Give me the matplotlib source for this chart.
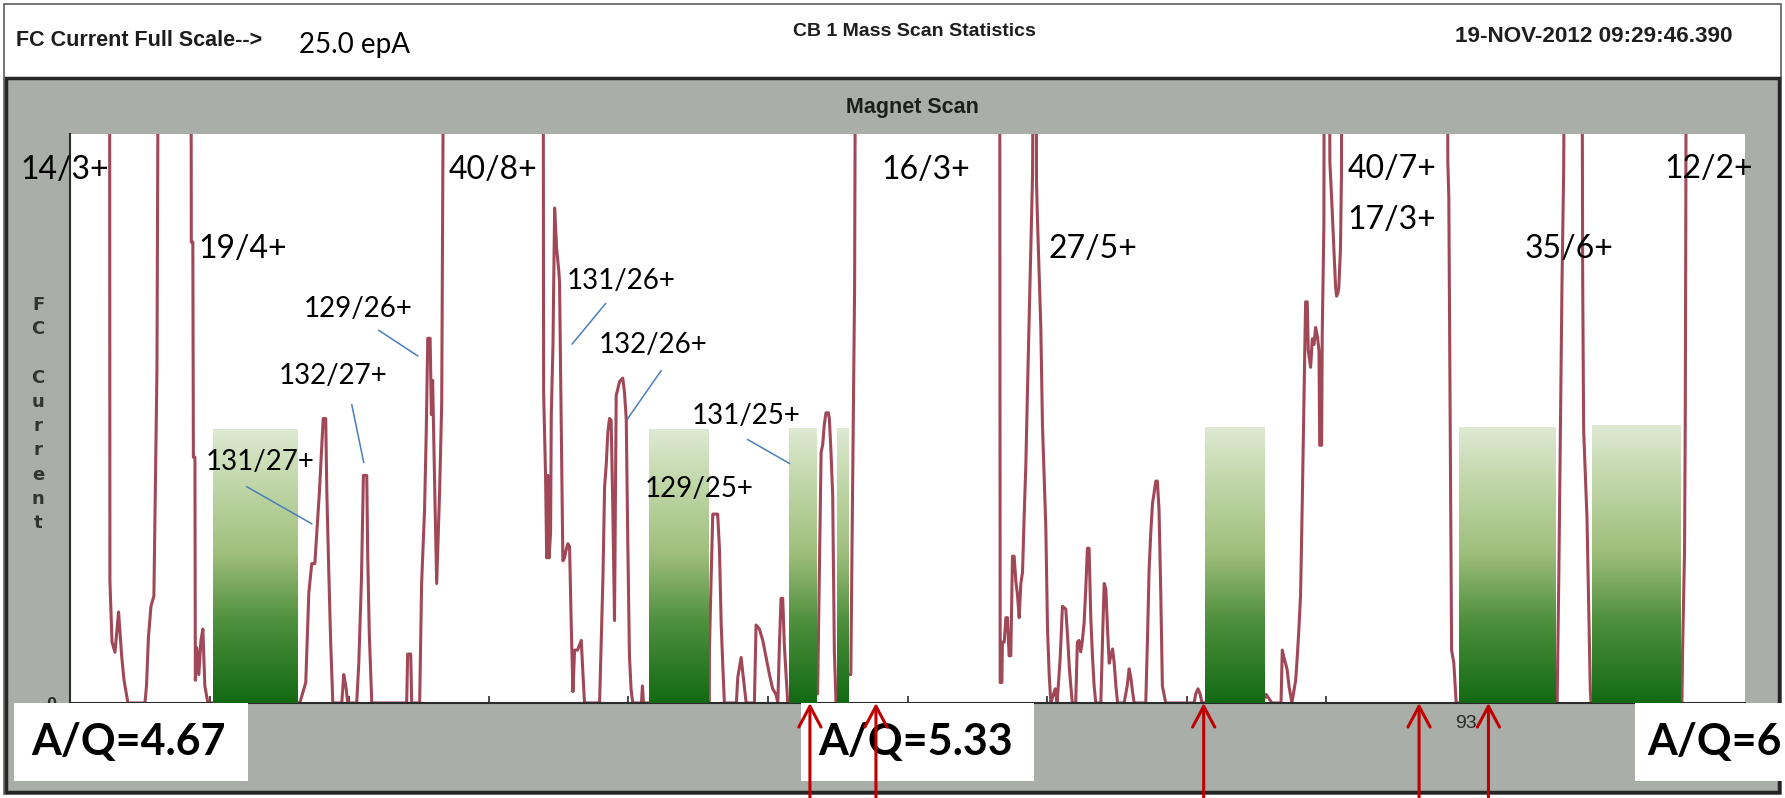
import matplotlib
matplotlib.use("Agg")
import matplotlib.pyplot as plt
import numpy as np
from matplotlib.patches import Rectangle
from matplotlib.colors import LinearSegmentedColormap

W, H = 1785, 798

# magnet scan trace: scan channel vs. FC current as a fraction of full scale
# (values above 1 are off scale and get clipped at the top of the plot)
scan_channel = [
    0, 28.3, 28.6, 30.1, 32.2, 34.8, 37.0, 38.7, 41.5, 53.7, 54.8, 56.2, 58.0, 60.1, 62.3, 63.7,
    86.6, 86.9, 88.0, 88.4, 89.5, 89.8, 90.9, 92.3, 93.8, 95.2, 96.6, 98.8, 164.6,
    168.9, 171.1, 173.2, 175.4, 176.8, 178.7, 180.0, 181.4, 183.2, 184.0, 185.4, 186.8, 188.3,
    194.7, 196.1, 197.6, 199.0, 205.4, 206.9, 208.8, 210.2, 212.6, 213.3, 214.4, 216.2,
    241.2, 241.9, 244.1, 244.8, 250.5, 251.9, 254.0, 255.2, 256.3, 258.0, 258.9, 259.8, 260.8,
    261.6, 262.7, 264.8, 266.3, 267.0, 268.2,
    338.9, 339.3, 340.7, 341.5, 342.3, 343.2, 344.3, 344.8, 346.0, 347.2, 348.6, 350.3, 350.7,
    351.9, 353.1, 354.3, 355.5, 356.7, 357.9, 359.1, 360.3, 361.5, 363.6, 366.3, 367.4, 368.6,
    379.4, 380.6, 381.8, 383.0, 384.2, 385.3, 386.5, 387.7, 388.9, 390.1, 391.3, 393.7, 396.0,
    397.2, 398.5, 399.6, 400.8, 402.0, 403.2, 409.4, 410.1, 410.8, 458.0,
    458.1, 459.3, 460.5, 464.0, 465.3, 466.5, 467.6, 468.8, 477.4, 478.4, 480.8, 482.4, 484.4,
    490.3, 491.5, 493.9, 496.3, 498.7, 501.1, 503.4, 505.8, 507.1, 508.2, 509.4, 510.6, 511.8,
    513.0, 514.2, 535.6,
    536.9, 538.1, 539.3, 540.4, 541.6, 543.3, 544.0, 545.2, 546.4, 547.6, 548.8, 557.8, 559.4,
    560.2, 561.2, 562.1, 563.1, 666.0,
    666.4, 667.6, 668.0, 669.3, 670.5, 671.6, 672.8, 674.0, 675.2, 676.4, 677.6, 678.8, 680.0,
    681.2, 682.4, 683.6, 684.8, 686.0, 687.2, 688.4, 689.6, 690.8, 692.2, 692.4, 693.1, 694.3,
    695.5, 696.7, 699.1, 700.3, 701.5, 702.7, 703.9, 705.8, 707.2, 709.4, 711.0, 713.4, 714.6,
    716.0, 717.0, 718.1, 720.5, 721.7, 722.9, 724.1, 725.3, 726.5, 727.7, 728.9, 730.1, 731.3,
    732.5, 733.7, 734.9, 738.5, 739.7, 740.9, 742.1, 743.3, 744.5, 745.7, 746.9, 748.1, 749.3,
    750.5, 755.2, 757.4, 758.8, 760.0, 761.2, 762.4, 770.7, 771.9, 773.1, 774.3, 775.5, 776.7,
    777.9, 779.0, 780.2, 781.4, 782.6, 783.8, 785.0, 805.3, 806.5, 808.1, 809.6, 811.0, 856.6,
    857.0, 861.1, 867.6, 868.5, 869.7, 871.9, 873.3, 875.4, 878.1, 879.2, 880.4, 881.6, 882.8,
    884.0, 885.2, 886.4, 887.1, 888.8, 890.0, 891.2, 892.4, 893.6, 894.8, 895.3, 896.7, 897.1,
    898.3, 898.8, 901.9, 902.6, 903.8, 905.4, 906.7, 907.4, 908.3, 909.0, 910.2, 910.9, 911.4,
    986.6, 987.1, 987.8, 988.8, 989.8, 991.4, 993.1, 1065.4, 1066.6, 1067.8, 1068.9, 1070.1,
    1071.4, 1083.0, 1083.7, 1084.4, 1086.8, 1088.0, 1089.2, 1089.8, 1154.8, 1155.3, 1156.0,
    1156.7, 1157.2, 1157.6, 1158.1, 1200,
]
scan_current = [
    1.5, 1.5, 0.214, 0.107, 0.089, 0.16, 0.083, 0.04, 0.0, 0.0, 0.03, 0.116, 0.17, 0.188, 0.587, 1.5,
    1.5, 0.81, 0.81, 0.432, 0.432, 0.04, 0.097, 0.05, 0.11, 0.13, 0.03, 0.0, 0.0,
    0.036, 0.194, 0.245, 0.245, 0.30, 0.372, 0.433, 0.50, 0.50, 0.37, 0.23, 0.103, 0.0,
    0.0, 0.05, 0.03, 0.0, 0.0, 0.07, 0.218, 0.40, 0.40, 0.258, 0.123, 0.0,
    0.0, 0.086, 0.086, 0.0, 0.0, 0.21, 0.339, 0.473, 0.641, 0.641, 0.507, 0.567, 0.44,
    0.339, 0.21, 0.372, 0.527, 0.866, 1.5,
    1.5, 0.547, 0.40, 0.255, 0.40, 0.255, 0.30, 0.507, 0.628, 0.87, 0.80, 0.756, 0.74,
    0.49, 0.25, 0.255, 0.27, 0.28, 0.275, 0.137, 0.02, 0.093, 0.093, 0.11, 0.055, 0.0,
    0.0, 0.11, 0.22, 0.38, 0.42, 0.475, 0.50, 0.497, 0.339, 0.145, 0.54, 0.565, 0.571,
    0.547, 0.50, 0.285, 0.083, 0.023, 0.0, 0.0, 0.03, 0.0, 0.0,
    0.093, 0.218, 0.332, 0.332, 0.27, 0.14, 0.07, 0.0, 0.0, 0.045, 0.08, 0.045, 0.0,
    0.0, 0.137, 0.13, 0.11, 0.08, 0.05, 0.025, 0.015, 0.0, 0.10, 0.184, 0.184, 0.10,
    0.05, 0.0, 0.016,
    0.23, 0.44, 0.455, 0.49, 0.51, 0.51, 0.50, 0.44, 0.365, 0.09, 0.0, 0.05, 0.05,
    0.26, 0.50, 0.73, 1.5, 1.5,
    0.036, 0.036, 0.107, 0.107, 0.15, 0.15, 0.083, 0.083, 0.258, 0.258, 0.215, 0.19, 0.15,
    0.21, 0.23, 0.33, 0.42, 0.554, 0.678, 0.81, 0.93, 1.5, 1.5, 0.92, 0.85, 0.756,
    0.661, 0.487, 0.308, 0.13, 0.05, 0.0, 0.01, 0.025, 0.0, 0.08, 0.17, 0.165, 0.12,
    0.06, 0.03, 0.0, 0.0, 0.107, 0.11, 0.09, 0.11, 0.14, 0.20, 0.272, 0.272, 0.15,
    0.083, 0.03, 0.0, 0.0, 0.11, 0.21, 0.20, 0.13, 0.07, 0.083, 0.095, 0.07, 0.03,
    0.0, 0.0, 0.03, 0.06, 0.045, 0.02, 0.0, 0.0, 0.11, 0.235, 0.30, 0.35, 0.37,
    0.39, 0.39, 0.34, 0.20, 0.03, 0.015, 0.0, 0.0, 0.016, 0.025, 0.016, 0.0, 0.01,
    0.015, 0.0, 0.0, 0.093, 0.08, 0.06, 0.03, 0.0, 0.04, 0.08, 0.13, 0.19, 0.35,
    0.523, 0.705, 0.705, 0.62, 0.59, 0.64, 0.63, 0.66, 0.645, 0.62, 0.453, 0.453, 0.645,
    0.84, 1.5, 1.5, 0.95, 0.89, 0.80, 0.73, 0.715, 0.72, 0.73, 0.80, 0.93, 1.5,
    1.5, 0.95, 0.89, 0.50, 0.093, 0.07, 0.0, 0.0, 0.22, 0.49, 0.74, 0.94,
    1.5, 1.5, 0.75, 0.48, 0.325, 0.177, 0.02, 0.0, 0.0, 0.093, 0.184,
    0.27, 0.50, 0.85, 1.5, 1.5,
]

# green selection windows
window_left = [102.7, 414.5, 515.4, 549.5, 813.1, 995.0, 1090.4]
window_right = [163.0, 457.4, 535.2, 557.4, 855.4, 1064.2, 1153.7]
window_height = [0.481, 0.481, 0.483, 0.483, 0.485, 0.485, 0.487]

# charge-state labels of the big (off scale) peaks
peak_labels = ["14/3+", "19/4+", "40/8+", "16/3+", "27/5+", "40/7+", "17/3+", "35/6+", "12/2+"]
peak_label_x = [-3.6, 123.8, 302.8, 613.4, 733.0, 947.0, 947.0, 1073.7, 1173.9]
peak_label_y = [0.937, 0.798, 0.937, 0.937, 0.798, 0.939, 0.849, 0.798, 0.939]

# xenon charge states with leader lines
xe_labels = ["131/27+", "132/27+", "129/26+", "131/26+", "132/26+", "131/25+", "129/25+"]
xe_label_x = [136.0, 188.3, 206.2, 395.1, 417.8, 484.4, 451.0]
xe_label_y = [0.423, 0.575, 0.692, 0.742, 0.629, 0.505, 0.376]
leader_x0 = [126.7, 201.9, 221.2, 383.7, 423.5, 485.5]
leader_y0 = [0.38, 0.524, 0.655, 0.702, 0.584, 0.463]
leader_x1 = [173.2, 210.4, 249.1, 359.8, 399.6, 515.4]
leader_y1 = [0.315, 0.423, 0.61, 0.631, 0.50, 0.421]

# red markers below the scan
arrow_channel = [530.1, 577.4, 812.2, 966.5, 1016.2]

aq_labels = ["A/Q=4.67", "A/Q=5.33", "A/Q=6"]

# plot area in pixels
AX_L, AX_R, AX_T, AX_B = 70, 1745, 134, 703

fig = plt.figure(figsize=(W / 100, H / 100), dpi=100)
fig.patch.set_facecolor("white")


def fig_rect(x0, y0, x1, y1, **kw):
    r = Rectangle((x0 / W, 1 - y1 / H), (x1 - x0) / W, (y1 - y0) / H,
                  transform=fig.transFigure, **kw)
    fig.add_artist(r)


def axf(x, y):
    return (x - AX_L) / (AX_R - AX_L), (AX_B - y) / (AX_B - AX_T)


# header frame and grey panel
fig_rect(4, 4, 1781, 794, fill=False, ec="#5e5e5e", lw=1.2, zorder=-10)
fig_rect(6, 78, 1779, 792, fc="#a9aea8", ec="#252525", lw=2.5, zorder=-9)

hdr = "Liberation Sans"
fig.text(16 / W, 1 - 41 / H, "FC Current Full Scale-->", family=hdr, weight="bold",
         fontsize=15.5, color="#1e1e1e", va="center", ha="left")
fig.text(299 / W, 1 - 45 / H, "25.0 epA", family="Lato", fontsize=20, color="black",
         va="center", ha="left")
fig.text(914 / W, 1 - 32 / H, "CB 1 Mass Scan Statistics", family=hdr, weight="bold",
         fontsize=14, color="#1e1e1e", va="center", ha="center")
fig.text(1455 / W, 1 - 36 / H, "19-NOV-2012 09:29:46.390", family=hdr, weight="bold",
         fontsize=16.2, color="#1e1e1e", va="center", ha="left")
fig.text(912 / W, 1 - 108 / H, "Magnet Scan", family=hdr, weight="bold",
         fontsize=15.5, color="#1e1e1e", va="center", ha="center")

ax = fig.add_axes([AX_L / W, 1 - AX_B / H, (AX_R - AX_L) / W, (AX_B - AX_T) / H])
ax.set_facecolor("white")

ax.plot(scan_channel, scan_current, color="#a14858", lw=2.2, zorder=2)

green = LinearSegmentedColormap.from_list(
    "win", [(0, "#136a13"), (0.3, "#4f903d"), (0.55, "#a0bf7d"), (0.8, "#c0d7a8"), (1, "#dee9d2")])
grad = np.linspace(0, 1, 256).reshape(-1, 1)
for l, r, h in zip(window_left, window_right, window_height):
    ax.imshow(grad, extent=(l, r, 0, h), origin="lower", aspect="auto", cmap=green,
              interpolation="bilinear", zorder=3)

for x0, y0, x1, y1 in zip(leader_x0, leader_y0, leader_x1, leader_y1):
    ax.plot([x0, x1], [y0, y1], color="#4a7ebb", lw=1.1, zorder=4)

for t, x, y in zip(peak_labels, peak_label_x, peak_label_y):
    ax.text(x, y, t, family="Lato", fontsize=23, ha="center", va="center", zorder=5,
            clip_on=False)
for t, x, y in zip(xe_labels, xe_label_x, xe_label_y):
    ax.text(x, y, t, family="Lato", fontsize=20, ha="center", va="center", zorder=5)

ax.set_xlim(0, 1200)
ax.set_ylim(0, 1)
for s in ["top", "right"]:
    ax.spines[s].set_visible(False)
for s in ["left", "bottom"]:
    ax.spines[s].set_color("#2b2b2b")
    ax.spines[s].set_linewidth(1.5)

ticks = list(range(100, 1200, 100))
ax.set_xticks(ticks)
ax.set_xticklabels(["93" if t == 1000 else "" for t in ticks], family=hdr, fontsize=14,
                   color="#2a2a2a")
ax.tick_params(axis="x", direction="in", length=5, width=1.2, color="#2b2b2b", pad=9)
ax.set_yticks([0])
ax.set_yticklabels(["0"], family=hdr, weight="bold", fontsize=13, color="#2a2a2a")
ax.tick_params(axis="y", length=0, pad=10)

ax.set_ylabel("F\nC\n\nC\nu\nr\nr\ne\nn\nt", rotation=0, family="DejaVu Sans", weight="bold",
              fontsize=13, color="#333333", linespacing=1.45, va="center", ha="center")
ax.yaxis.set_label_coords(axf(38, 0)[0], axf(0, 414)[1])

# A/Q boxes below the scan
boxes = [(14, 248), (801, 1034), (1635, 1785)]
for (x0, x1), lab in zip(boxes, aq_labels):
    bx, by = axf(x0, 781)
    bw = (x1 - x0) / (AX_R - AX_L)
    bh = 78 / (AX_B - AX_T)
    ax.add_patch(Rectangle((bx, by), bw, bh, transform=ax.transAxes, fc="white", ec="none",
                           clip_on=False, zorder=6))
text_pos = [(128, "center"), (916, "center"), (1647, "left")]
for (tx, ha), lab in zip(text_pos, aq_labels):
    px, py = axf(tx, 742)
    ax.text(px, py, lab, transform=ax.transAxes, family="Lato", weight="bold", fontsize=31,
            ha=ha, va="center", zorder=7, clip_on=False)

y_bottom = axf(0, 798)[1]
for ch in arrow_channel:
    ax.annotate("", xy=(ch, 0), xycoords="data", xytext=(ch, y_bottom),
                textcoords=("data", "axes fraction"), annotation_clip=False, zorder=8,
                arrowprops=dict(arrowstyle="->,head_length=0.75,head_width=0.4",
                                color="#c00000", lw=2.2, shrinkA=0, shrinkB=0,
                                mutation_scale=20))

fig.savefig("out.png", dpi=100)
